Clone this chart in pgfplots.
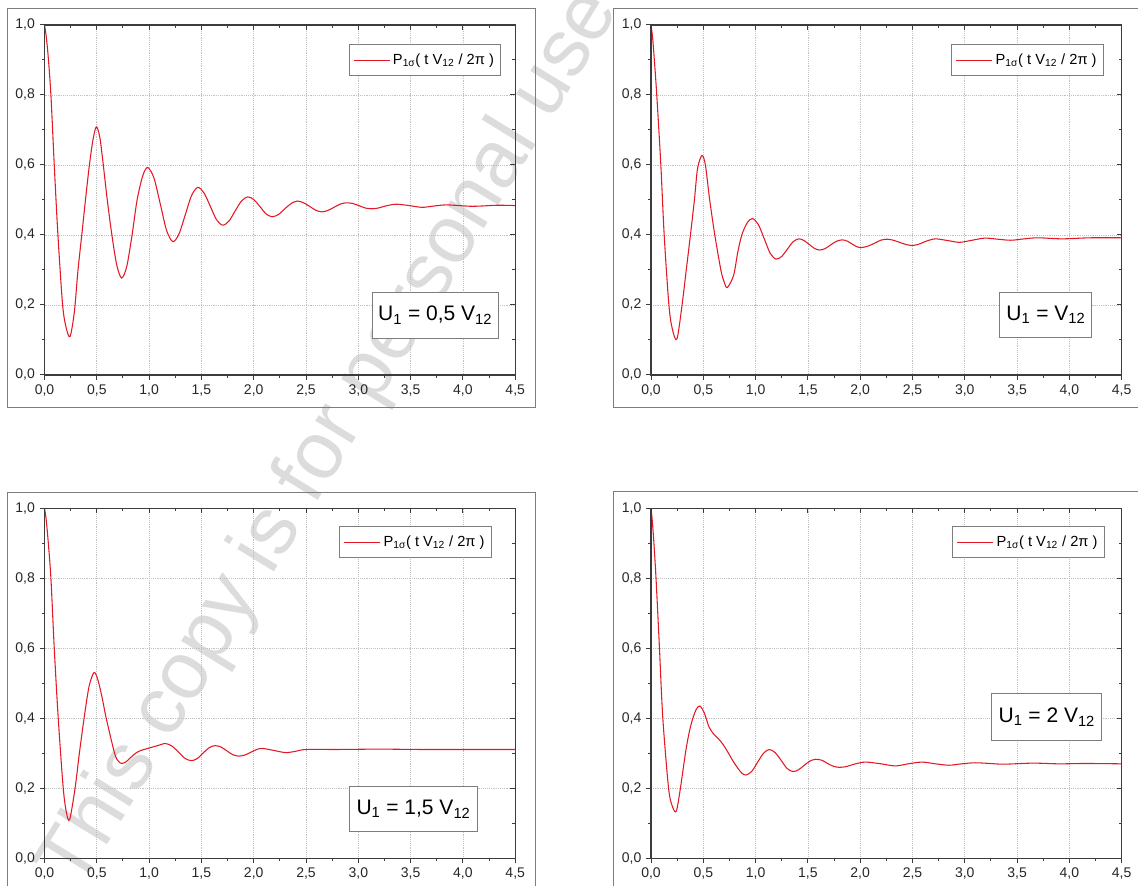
\documentclass[border=0pt]{standalone}
\usepackage{fontspec}
\setmainfont{Liberation Sans}
\usepackage{pgfplots}
\pgfplotsset{compat=1.18}

\definecolor{curvered}{RGB}{228,24,36}
\definecolor{axgray}{RGB}{60,60,60}
\definecolor{boxgray}{RGB}{125,125,125}
\definecolor{wmgray}{RGB}{220,220,220}

\pgfkeys{/pgf/number format/.cd, fixed, fixed zerofill, precision=1, use comma, assume math mode=true}

\pgfplotsset{
  panelbase/.style={
    scale only axis, width=353pt, height=262.5pt,
    xmin=0, xmax=4.5, ymin=0, ymax=1,
    xtick={0,0.5,...,4.5}, ytick={0,0.2,...,1},
    minor x tick num=1, minor y tick num=1,
    major tick length=3.75pt, minor tick length=2.25pt,
    axis line style={line width=0.9pt, draw=axgray},
    every tick/.style={line width=0.75pt, draw=axgray},
  },
  panel/.style={
    panelbase,
    tick align=outside, xtick pos=left, ytick pos=left,
    grid=major, major grid style={densely dotted, line width=0.5pt, black!24},
    tick label style={font=\fontsize{10.5}{12}\selectfont, text=black!85},
    legend cell align=left,
    legend image code/.code={\draw[##1] (0pt,0pt) -- (27pt,0pt);},
    legend style={draw=boxgray, line width=0.75pt, fill=white, anchor=north east,
      font=\fontsize{11}{13}\selectfont, inner xsep=3pt, inner ysep=5pt},
  },
  mirror/.style={
    panelbase,
    tick align=inside, xtick pos=right, ytick pos=right,
    xticklabels={}, yticklabels={},
  },
  curve/.style={color=curvered, line width=0.8pt, smooth, no markers},
}
\tikzset{annot/.style={draw=boxgray, line width=0.75pt, fill=white, inner sep=0pt,
    font=\fontsize{15.75}{18}\selectfont}}

\newcommand{\leg}{P\textsubscript{1σ}( t V\textsubscript{12} / 2π )}

\begin{document}
\begin{tikzpicture}
\path[use as bounding box] (0,0) rectangle (853.5pt,663.75pt);

% watermark
\node[rotate=58.5, text=wmgray, font=\fontsize{61}{68}\selectfont] at (248pt,334pt) {This copy is for personal use};

% panel frames
\draw[boxgray, line width=0.75pt] (5.25pt,357.75pt) rectangle (401.25pt,657.4pt);
\draw[boxgray, line width=0.75pt] (459.75pt,357.75pt) rectangle (870pt,657.4pt);
\draw[boxgray, line width=0.75pt] (5.25pt,-10pt) rectangle (401.25pt,294pt);
\draw[boxgray, line width=0.75pt] (459.75pt,-10pt) rectangle (870pt,294.75pt);

% ---- top left: U1 = 0,5 V12
\begin{axis}[panel, at={(33.4pt,382.5pt)}, anchor=south west,
  legend style={at={(0.970,0.946)}}]
\addplot[curve] coordinates {
 (0,1.000) (0.015,0.970) (0.035,0.910) (0.061,0.800) (0.093,0.600) (0.128,0.400)
 (0.173,0.200) (0.207,0.135) (0.244,0.110)
 (0.285,0.180) (0.320,0.300) (0.356,0.400) (0.395,0.510) (0.429,0.600) (0.462,0.670) (0.495,0.709)
 (0.528,0.680) (0.558,0.610) (0.600,0.500) (0.644,0.400) (0.690,0.315) (0.737,0.277)
 (0.786,0.310) (0.837,0.400) (0.885,0.500) (0.940,0.570) (0.987,0.593)
 (1.047,0.562) (1.108,0.487) (1.168,0.412) (1.228,0.381)
 (1.287,0.404) (1.347,0.459) (1.406,0.513) (1.465,0.536)
 (1.525,0.520) (1.585,0.482) (1.644,0.444) (1.704,0.428)
 (1.764,0.440) (1.823,0.469) (1.883,0.497) (1.942,0.509)
 (2.001,0.501) (2.060,0.481) (2.119,0.460) (2.178,0.452)
 (2.238,0.459) (2.298,0.475) (2.358,0.490) (2.418,0.497)
 (2.476,0.492) (2.534,0.482) (2.592,0.471) (2.650,0.466)
 (2.708,0.470) (2.767,0.479) (2.825,0.488) (2.883,0.492)
 (2.945,0.490) (3.007,0.484) (3.068,0.477) (3.130,0.475)
 (3.190,0.477) (3.250,0.482) (3.310,0.486) (3.370,0.488)
 (3.490,0.484) (3.610,0.479) (3.730,0.483) (3.850,0.486)
 (4.090,0.482) (4.330,0.485) (4.500,0.484)
};
\addlegendentry{\leg}
\node[annot, minimum width=94.5pt, minimum height=34.5pt] at (rel axis cs:0.830,0.171)
  {U\textsubscript{1} = 0,5 V\textsubscript{12}};
\end{axis}
\begin{axis}[mirror, at={(33.4pt,382.5pt)}, anchor=south west]
\end{axis}

% ---- top right: U1 = V12
\begin{axis}[panel, at={(488.25pt,382.5pt)}, anchor=south west,
  legend style={at={(0.962,0.946)}}]
\addplot[curve] coordinates {
 (0,1.000) (0.015,0.965) (0.032,0.900) (0.055,0.800) (0.094,0.600) (0.126,0.400)
 (0.171,0.200) (0.205,0.130) (0.248,0.103)
 (0.297,0.200) (0.337,0.300) (0.377,0.400) (0.415,0.500) (0.445,0.590) (0.487,0.627)
 (0.520,0.600) (0.561,0.500) (0.610,0.400) (0.668,0.300) (0.700,0.265) (0.730,0.250)
 (0.790,0.285) (0.829,0.350) (0.868,0.400) (0.920,0.435) (0.970,0.447)
 (1.026,0.430) (1.083,0.389) (1.139,0.348) (1.195,0.331)
 (1.250,0.339) (1.305,0.360) (1.360,0.381) (1.415,0.389)
 (1.464,0.384) (1.513,0.373) (1.561,0.362) (1.610,0.357)
 (1.664,0.361) (1.719,0.372) (1.773,0.382) (1.827,0.386)
 (1.873,0.383) (1.919,0.375) (1.964,0.367) (2.010,0.364)
 (2.072,0.368) (2.134,0.376) (2.195,0.385) (2.257,0.388)
 (2.317,0.385) (2.377,0.379) (2.436,0.373) (2.496,0.370)
 (2.554,0.373) (2.612,0.380) (2.669,0.386) (2.727,0.389)
 (2.839,0.384) (2.950,0.379) (3.070,0.385) (3.190,0.391)
 (3.315,0.388) (3.440,0.385) (3.570,0.389) (3.700,0.392)
 (3.930,0.389) (4.200,0.392) (4.500,0.392)
};
\addlegendentry{\leg}
\node[annot, minimum width=69pt, minimum height=33.75pt] at (rel axis cs:0.839,0.172)
  {U\textsubscript{1} = V\textsubscript{12}};
\end{axis}
\begin{axis}[mirror, at={(488.25pt,382.5pt)}, anchor=south west]
\end{axis}

% ---- bottom left: U1 = 1,5 V12
\begin{axis}[panel, at={(33.4pt,20pt)}, anchor=south west,
  legend style={at={(0.950,0.949)}}]
\addplot[curve] coordinates {
 (0,1.000) (0.015,0.970) (0.035,0.905) (0.061,0.800) (0.093,0.600) (0.131,0.400)
 (0.179,0.200) (0.210,0.130) (0.240,0.111)
 (0.292,0.200) (0.333,0.300) (0.378,0.400) (0.425,0.490) (0.473,0.531)
 (0.510,0.510) (0.550,0.460) (0.590,0.400) (0.670,0.300) (0.705,0.278) (0.738,0.271)
 (0.780,0.276) (0.820,0.287) (0.870,0.300) (0.920,0.308) (1.010,0.316) (1.080,0.322) (1.155,0.328)
 (1.217,0.321) (1.279,0.304) (1.341,0.286) (1.403,0.279)
 (1.460,0.285) (1.517,0.301) (1.573,0.316) (1.630,0.322)
 (1.687,0.318) (1.744,0.307) (1.800,0.296) (1.857,0.292)
 (1.914,0.295) (1.972,0.303) (2.029,0.311) (2.086,0.314)
 (2.197,0.308) (2.308,0.302) (2.404,0.306) (2.500,0.311)
 (2.800,0.311) (3.200,0.312) (3.600,0.311) (4.000,0.311) (4.500,0.311)
};
\addlegendentry{\leg}
\node[annot, minimum width=96pt, minimum height=33.75pt] at (rel axis cs:0.784,0.141)
  {U\textsubscript{1} = 1,5 V\textsubscript{12}};
\end{axis}
\begin{axis}[mirror, at={(33.4pt,20pt)}, anchor=south west]
\end{axis}

% ---- bottom right: U1 = 2 V12
\begin{axis}[panel, at={(488.25pt,20pt)}, anchor=south west,
  legend style={at={(0.964,0.949)}}]
\addplot[curve] coordinates {
 (0,1.000) (0.012,0.965) (0.028,0.900) (0.048,0.800) (0.081,0.600) (0.113,0.400)
 (0.168,0.200) (0.205,0.148) (0.242,0.135)
 (0.281,0.200) (0.329,0.300) (0.365,0.360) (0.400,0.400) (0.435,0.427) (0.468,0.435)
 (0.510,0.415) (0.555,0.375) (0.600,0.355) (0.640,0.343) (0.690,0.325) (0.732,0.305)
 (0.780,0.280) (0.829,0.258) (0.870,0.243) (0.910,0.238)
 (0.965,0.249) (1.020,0.275) (1.075,0.300) (1.130,0.311)
 (1.187,0.302) (1.244,0.280) (1.300,0.257) (1.357,0.248)
 (1.410,0.253) (1.466,0.266) (1.520,0.278) (1.575,0.283)
 (1.636,0.280) (1.688,0.271) (1.744,0.263) (1.800,0.260)
 (1.866,0.262) (1.930,0.268) (2.000,0.273) (2.063,0.275)
 (2.200,0.270) (2.335,0.264) (2.460,0.270) (2.590,0.275)
 (2.720,0.270) (2.847,0.266) (2.970,0.270) (3.100,0.273)
 (3.240,0.271) (3.375,0.269) (3.650,0.272) (3.900,0.270)
 (4.150,0.271) (4.500,0.270)
};
\addlegendentry{\leg}
\node[annot, minimum width=82.5pt, minimum height=35.25pt] at (rel axis cs:0.841,0.404)
  {U\textsubscript{1} = 2 V\textsubscript{12}};
\end{axis}
\begin{axis}[mirror, at={(488.25pt,20pt)}, anchor=south west]
\end{axis}
\end{tikzpicture}
\end{document}
